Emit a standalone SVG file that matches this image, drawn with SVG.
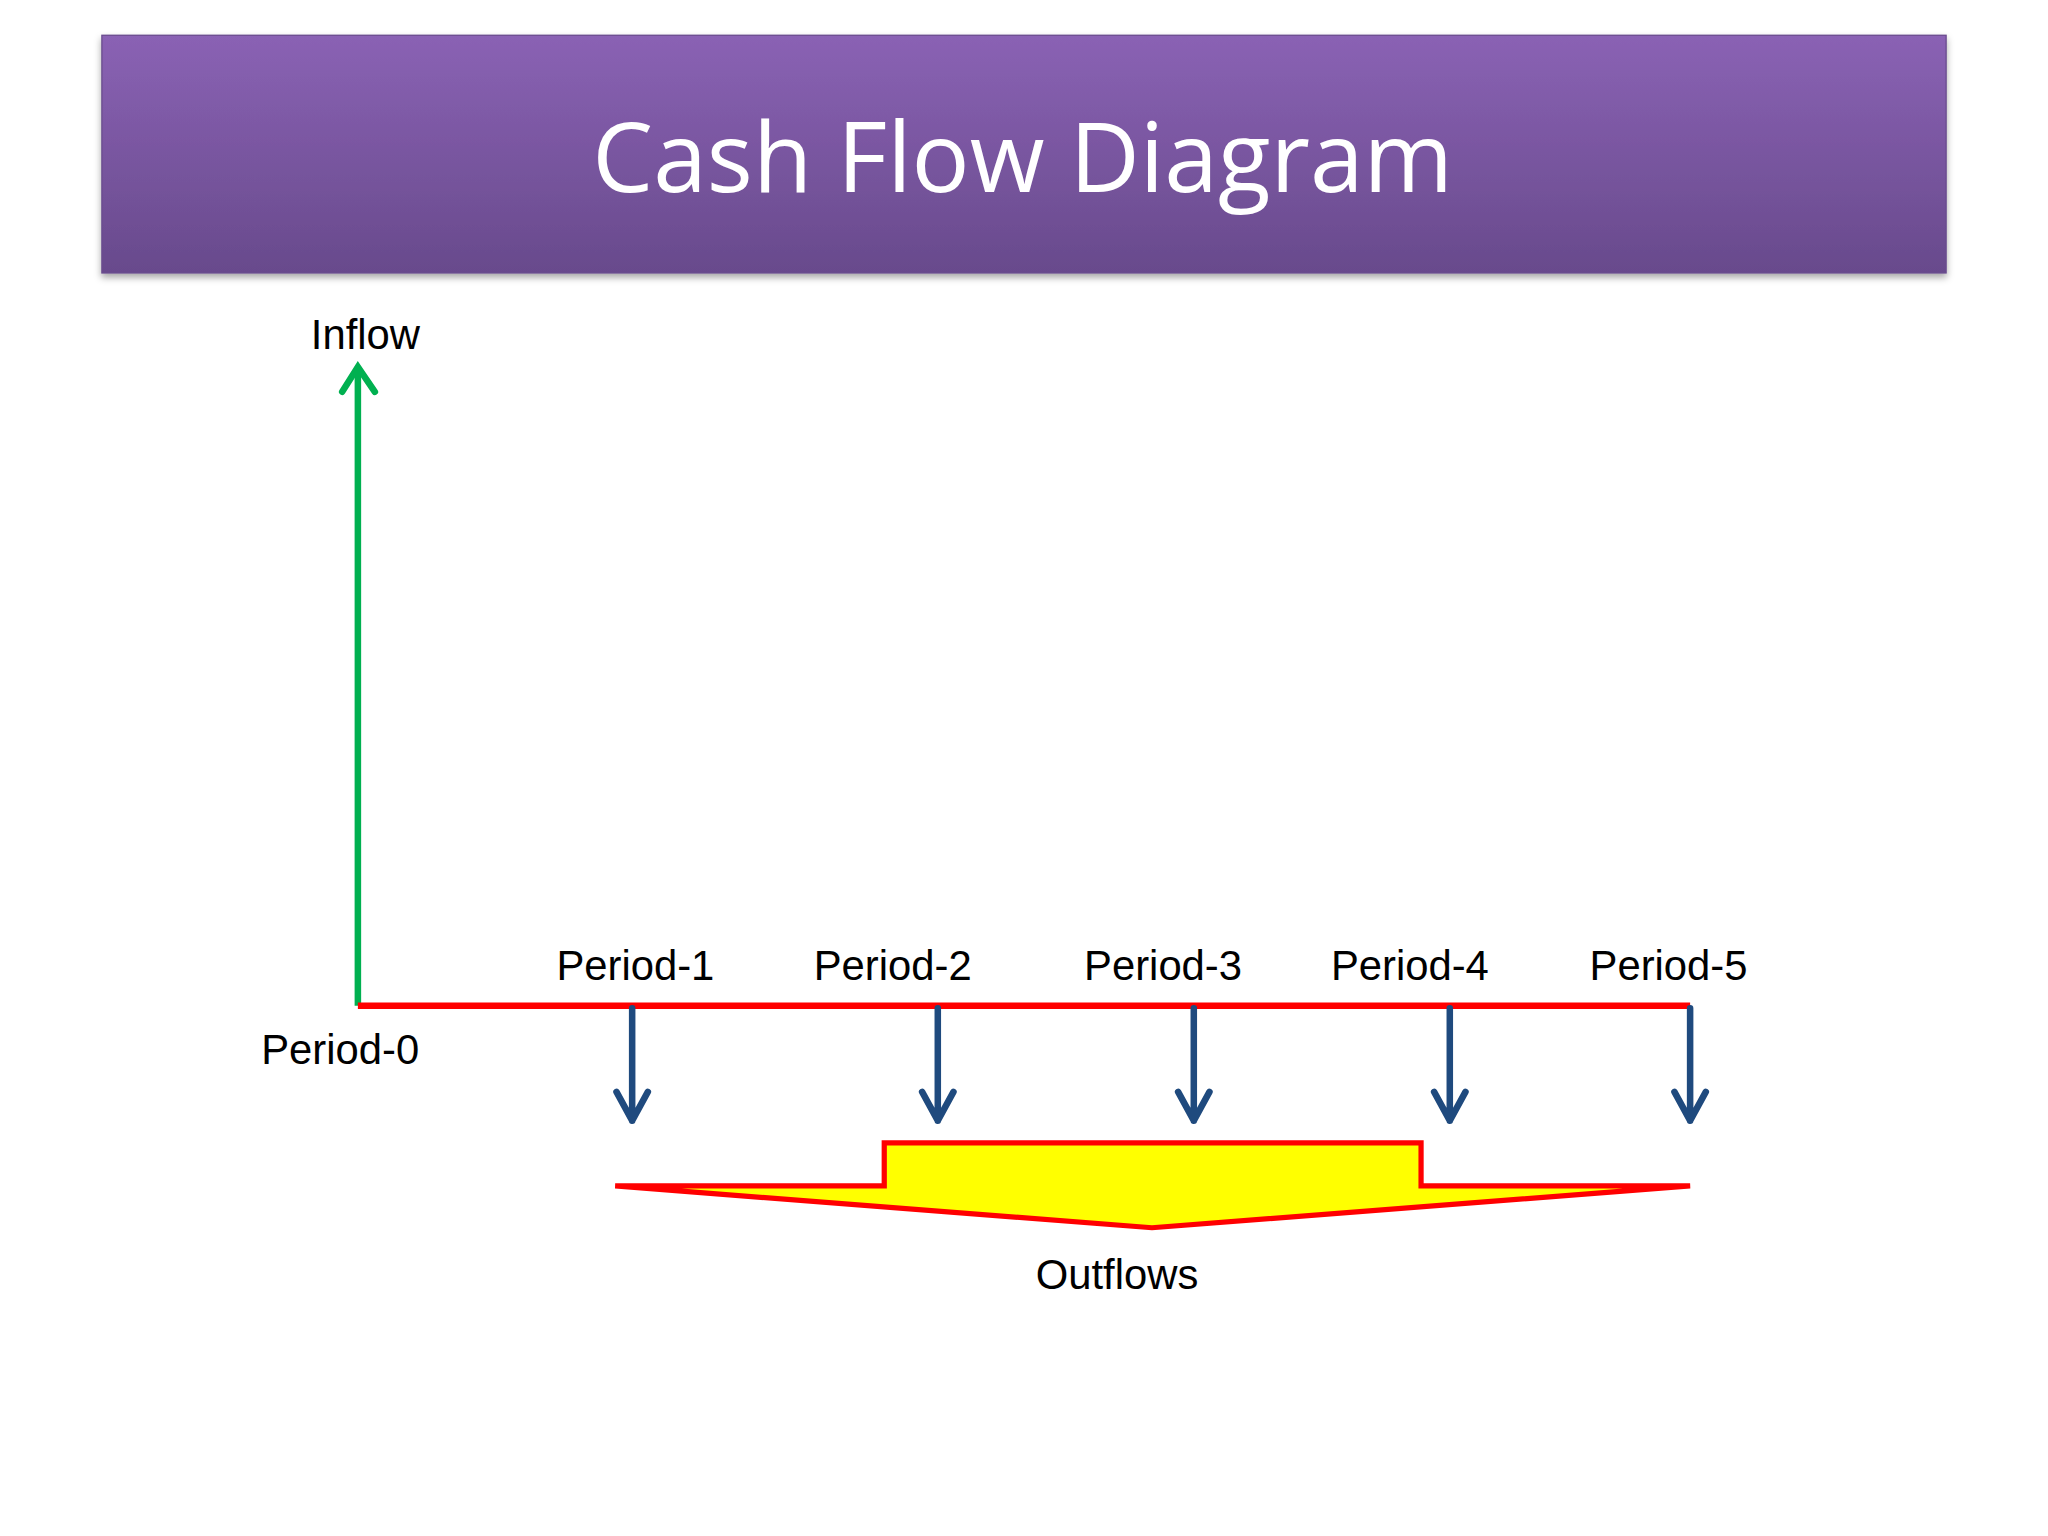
<svg xmlns="http://www.w3.org/2000/svg" width="2048" height="1536" viewBox="0 0 2048 1536">
<defs>
<linearGradient id="tg" x1="0" y1="0" x2="0" y2="1"><stop offset="0" stop-color="#8a62b4"/><stop offset="1" stop-color="#684a8c"/></linearGradient>
<filter id="sh" x="-5%" y="-10%" width="110%" height="130%"><feDropShadow dx="0" dy="3" stdDeviation="3" flood-opacity="0.35"/></filter>
</defs>
<style>
.t{font-family:"Liberation Sans",Arial,sans-serif;font-size:32px;fill:#000}
.b{stroke:#1f4a7e;stroke-width:5;fill:none;stroke-linecap:round;stroke-linejoin:round}
</style>
<rect width="2048" height="1536" fill="#fff"/>
<g transform="scale(1.30612)">
<g id="title"><rect x="78" y="27" width="1412" height="182" fill="url(#tg)" stroke="#6a4c8e" filter="url(#sh)"/>
<text x="783" y="147" text-anchor="middle" style="font-family:'Open Sans','Liberation Sans',sans-serif;font-size:74px;fill:#fff">Cash Flow Diagram</text></g>
<g id="connectors">
<line x1="274" y1="770" x2="274" y2="282" stroke="#00b050" stroke-width="5"/>
<polyline points="262,300 274,281 287,300" stroke="#00b050" stroke-width="5" fill="none" stroke-linecap="round"/>
<line x1="274" y1="770" x2="1294" y2="770" stroke="#ff0000" stroke-width="5"/>
<g class="b">
<path d="M484 772V858M472 836L484 858L496 836"/>
<path d="M718 772V858M706 836L718 858L730 836"/>
<path d="M914 772V858M902 836L914 858L926 836"/>
<path d="M1110 772V858M1098 836L1110 858L1122 836"/>
<path d="M1294 772V858M1282 836L1294 858L1306 836"/>
</g>
</g>
<g id="outflow-arrow"><polygon points="471,908 677,908 677,875 1088,875 1088,908 1294,908 882,940" fill="#ffff00" stroke="#ff0000" stroke-width="4"/></g>
<g id="labels">
<text class="t" x="238" y="267">Inflow</text>
<text class="t" x="200" y="815">Period-0</text>
<text class="t" x="426" y="750">Period-1</text>
<text class="t" x="623" y="750">Period-2</text>
<text class="t" x="830" y="750">Period-3</text>
<text class="t" x="1019" y="750">Period-4</text>
<text class="t" x="1217" y="750">Period-5</text>
<text class="t" x="793" y="987">Outflows</text>
</g>
</g>
</svg>
